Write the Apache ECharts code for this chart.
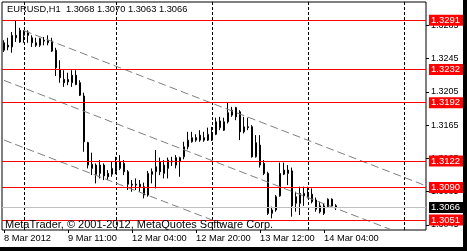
<!DOCTYPE html>
<html><head><meta charset="utf-8">
<script src="https://cdn.jsdelivr.net/npm/echarts@6/dist/echarts.min.js"></script>
<style>html,body{margin:0;padding:0;background:#fff;}#c{width:467px;height:251px;}</style>
</head><body><div id="c"></div>
<script>
// hourly bars: [day label, first hour, last hour]
const daySegments = [['8 Mar',19,23],['9 Mar',0,22],['12 Mar',0,23],['13 Mar',0,23],['14 Mar',0,23],['15 Mar',0,5]];
const categories = [];
daySegments.forEach(function(s){ for (let h=s[1]; h<=s[2]; h++) categories.push(s[0]+' '+String(h).padStart(2,'0')+':00'); });

const openP = [1.3255,1.3261,1.3259,1.3273,1.3265,1.3273,1.3277,1.3270,1.3264,1.3261,
1.3267,1.3264,1.3266,1.3255,1.3232,1.3220,1.3217,1.3216,1.3225,1.3216,
1.3200,1.3144,1.3113,1.3117,1.3107,1.3117,1.3107,1.3106,1.3109,1.3113,
1.3119,1.3109,1.3093,1.3094,1.3094,1.3091,1.3081,1.3109,1.3109,1.3121,
1.3107,1.3113,1.3122,1.3117,1.3121,1.3127,1.3139,1.3145,1.3150,1.3147,
1.3150,1.3147,1.3154,1.3154,1.3162,1.3169,1.3169,1.3177,1.3186,1.3181,
1.3157,1.3163,1.3163,1.3127,1.3141,1.3119,1.3107,1.3059,1.3063,1.3080,
1.3106,1.3107,1.3110,1.3071,1.3071,1.3080,1.3083,1.3082,1.3075,1.3068,
1.3059,1.3067,1.3076,1.3068];
const closeP = [1.3264,1.3259,1.3273,1.3270,1.3279,1.3278,1.3273,1.3264,1.3261,1.3269,
1.3266,1.3267,1.3254,1.3234,1.3222,1.3216,1.3220,1.3225,1.3214,1.3201,
1.3145,1.3117,1.3118,1.3106,1.3117,1.3104,1.3103,1.3113,1.3117,1.3121,
1.3109,1.3094,1.3094,1.3093,1.3091,1.3081,1.3107,1.3106,1.3115,1.3109,
1.3117,1.3123,1.3121,1.3126,1.3126,1.3139,1.3147,1.3150,1.3147,1.3153,
1.3147,1.3154,1.3147,1.3169,1.3170,1.3159,1.3180,1.3183,1.3175,1.3157,
1.3163,1.3162,1.3127,1.3144,1.3117,1.3107,1.3059,1.3063,1.3079,1.3107,
1.3111,1.3111,1.3068,1.3079,1.3083,1.3083,1.3079,1.3073,1.3064,1.3061,
1.3068,1.3076,1.3068,1.3066];
const lowP = [1.3253,1.3255,1.3252,1.3265,1.3264,1.3264,1.3264,1.3259,1.3259,1.3259,
1.3261,1.3261,1.3253,1.3224,1.3216,1.3211,1.3213,1.3211,1.3213,1.3200,
1.3133,1.3113,1.3105,1.3095,1.3101,1.3099,1.3099,1.3103,1.3106,1.3111,
1.3105,1.3087,1.3085,1.3087,1.3085,1.3077,1.3079,1.3095,1.3089,1.3105,
1.3101,1.3101,1.3116,1.3113,1.3103,1.3124,1.3136,1.3144,1.3145,1.3145,
1.3145,1.3146,1.3146,1.3153,1.3159,1.3158,1.3167,1.3175,1.3171,1.3147,
1.3155,1.3159,1.3126,1.3126,1.3114,1.3105,1.3057,1.3053,1.3061,1.3079,
1.3105,1.3093,1.3055,1.3061,1.3057,1.3068,1.3077,1.3071,1.3061,1.3059,
1.3057,1.3066,1.3067,1.3063];
const highP = [1.3267,1.3270,1.3277,1.3291,1.3282,1.3279,1.3279,1.3273,1.3270,1.3270,
1.3271,1.3273,1.3270,1.3258,1.3243,1.3231,1.3228,1.3231,1.3231,1.3219,
1.3204,1.3145,1.3132,1.3119,1.3123,1.3119,1.3111,1.3121,1.3127,1.3129,
1.3123,1.3111,1.3099,1.3101,1.3099,1.3096,1.3110,1.3113,1.3135,1.3126,
1.3123,1.3126,1.3127,1.3129,1.3127,1.3145,1.3157,1.3157,1.3154,1.3159,
1.3157,1.3162,1.3163,1.3174,1.3175,1.3174,1.3192,1.3187,1.3187,1.3183,
1.3175,1.3174,1.3165,1.3153,1.3153,1.3123,1.3109,1.3067,1.3081,1.3120,
1.3120,1.3117,1.3114,1.3085,1.3091,1.3091,1.3091,1.3089,1.3078,1.3073,
1.3071,1.3077,1.3077,1.3070];

const priceTicks = [1.3045,1.3085,1.3125,1.3165,1.3205,1.3245,1.3285];
const timeTickCats = ['8 Mar 19:00','9 Mar 11:00','12 Mar 04:00','12 Mar 20:00','13 Mar 12:00','14 Mar 04:00'];
const timeTickText = ['8 Mar 2012','9 Mar 11:00','12 Mar 04:00','12 Mar 20:00','13 Mar 12:00','14 Mar 04:00'];
const daySeparators = ['9 Mar 00:00','12 Mar 00:00','13 Mar 00:00','14 Mar 00:00','15 Mar 00:00'];
const redLevels = [1.3291,1.3232,1.3192,1.3122,1.3090,1.3051];
const bidLevel = 1.3066;
const channelLines = [
  [['9 Mar 00:00',1.32785],['15 Mar 05:00',1.3093]],
  [['8 Mar 19:00',1.32188],['14 Mar 21:00',1.3039]],
  [['8 Mar 19:00',1.31471],['13 Mar 06:00',1.3040]]
];
const titleText = 'EURUSD,H1  1.3068 1.3070 1.3063 1.3066';
const copyrightText = 'MetaTrader, \u00A9 2001-2012, MetaQuotes Software Corp.';

const FONT = '"Liberation Sans", Arial, sans-serif';
const candles = openP.map(function(o,i){ return [o, closeP[i], lowP[i], highP[i]]; });

function boxLabel(bg){
  return {show:true, position:'end', distance:3, formatter:function(p){return Number(p.value).toFixed(4);},
    backgroundColor:bg, color:'#fff', fontFamily:FONT, fontSize:9.5, lineHeight:11, padding:[0,3,0,2]};
}
const guideLines = [];
daySeparators.forEach(function(c){ guideLines.push({xAxis:c, lineStyle:{color:'#000', type:[3,2], width:1, opacity:1}, label:{show:false}}); });
channelLines.forEach(function(l){ guideLines.push([{coord:l[0], lineStyle:{color:'#808080', type:[8,4], width:1, opacity:1}, label:{show:false}}, {coord:l[1]}]); });
const levelLines = [];
levelLines.push({yAxis:bidLevel, lineStyle:{color:'#c0c0c0', type:'solid', width:1, opacity:1}, label:boxLabel('#000')});
redLevels.forEach(function(v){ levelLines.push({yAxis:v, lineStyle:{color:'#ff0000', type:'solid', width:1, opacity:1}, label:boxLabel('#ff0000')}); });

const chart = echarts.init(document.getElementById('c'), null, {renderer:'canvas'});
chart.setOption({
  animation:false,
  backgroundColor:'#fff',
  title:[
    {text:titleText, left:7, top:5, padding:0, textStyle:{fontFamily:FONT, fontSize:9.3, fontWeight:'normal', color:'#000'}},
    {text:copyrightText, left:5, top:219.5, padding:0, textStyle:{fontFamily:FONT, fontSize:11, fontWeight:'normal', color:'#000'}}
  ],
  grid:{left:2, top:2, width:424, height:228, show:true, borderColor:'#000', borderWidth:1, backgroundColor:'transparent'},
  xAxis:{
    type:'category', data:categories, boundaryGap:true,
    axisLine:{show:false},
    axisTick:{show:true, alignWithLabel:true, length:3, lineStyle:{color:'#000'},
      interval:function(i,v){ return timeTickCats.indexOf(v) >= 0; }},
    axisLabel:{show:true, align:'left', margin:4, color:'#000', fontFamily:FONT, fontSize:9.3,
      interval:function(i,v){ return timeTickCats.indexOf(v) >= 0; },
      formatter:function(v){ const j = timeTickCats.indexOf(v); return j>=0 ? timeTickText[j] : ''; }},
    splitLine:{show:false}
  },
  yAxis:{
    type:'value', position:'right', min:1.3039, max:1.3313, scale:true,
    axisLine:{show:false},
    axisTick:{show:true, length:3, lineStyle:{color:'#000'}, customValues:priceTicks},
    axisLabel:{show:true, margin:5, color:'#000', fontFamily:FONT, fontSize:9, customValues:priceTicks,
      formatter:function(v){ return Number(v).toFixed(4); }},
    splitLine:{show:false}
  },
  graphic:[
    {type:'rect', shape:{x:463, y:0, width:4, height:251}, style:{fill:'#000'}, z:100},
    {type:'rect', shape:{x:0, y:247, width:467, height:4}, style:{fill:'#000'}, z:100}
  ],
  series:[
    {
      type:'candlestick', data:candles, barWidth:2, z:3,
      itemStyle:{color:'#fff', color0:'#000', borderColor:'#000', borderColor0:'#000', borderWidth:1},
      markLine:{silent:true, precision:5, symbol:['none','none'], animation:false, data:guideLines}
    },
    {
      type:'line', data:[], z:4, silent:true,
      markLine:{silent:true, precision:5, symbol:['none','none'], animation:false,
        emphasis:{disabled:true}, data:levelLines}
    }
  ]
});
</script></body></html>
